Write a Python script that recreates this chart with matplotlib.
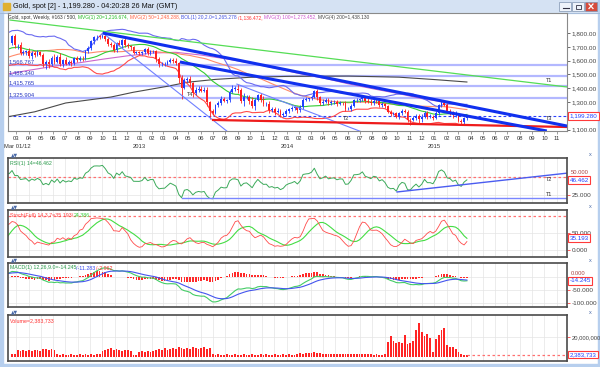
import numpy as np
import pandas as pd
import matplotlib
matplotlib.use("Agg")
import matplotlib.pyplot as plt
import matplotlib.dates as mdates
from matplotlib.patches import Rectangle

plt.rcParams['font.family'] = ['Liberation Sans', 'DejaVu Sans']

# ---------------- data ----------------
pre_start = "2011-03-07"          # weekly closes used only to warm up the indicators
pre_closes = [1421, 1418, 1428, 1429, 1474, 1486, 1504, 1556, 1491, 1493,
              1509, 1536, 1542, 1530, 1540, 1502, 1486, 1542, 1594, 1601,
              1628, 1664, 1744, 1852, 1828, 1876, 1856, 1812, 1656, 1624,
              1635, 1682, 1642, 1745, 1755, 1788, 1724, 1684, 1746, 1711,
              1598, 1606, 1566, 1617, 1640, 1665, 1739, 1725, 1725, 1725]

start_week = "2012-02-20"
closes = [1776, 1711, 1712, 1656, 1662, 1668, 1632, 1658, 1642, 1663,
          1644, 1579, 1592, 1572, 1622, 1591, 1627, 1572, 1604, 1579,
          1591, 1582, 1619, 1606, 1621, 1616, 1671, 1692, 1740, 1771,
          1773, 1772, 1781, 1758, 1724, 1711, 1676, 1731, 1713, 1751,
          1712, 1704, 1696, 1657, 1657, 1656, 1662, 1687, 1658, 1667,
          1667, 1609, 1573, 1576, 1577, 1592, 1608, 1596, 1581, 1476,
          1405, 1462, 1468, 1436, 1365, 1386, 1393, 1383, 1387, 1297,
          1234, 1223, 1277, 1296, 1322, 1310, 1312, 1375, 1396, 1396,
          1386, 1308, 1333, 1338, 1309, 1272, 1315, 1351, 1315, 1286,
          1288, 1244, 1250, 1230, 1235, 1203, 1213, 1237, 1248, 1254,
          1264, 1240, 1262, 1318, 1323, 1326, 1339, 1379, 1335, 1294,
          1303, 1318, 1294, 1300, 1302, 1287, 1293, 1292, 1250, 1252,
          1274, 1315, 1316, 1320, 1337, 1310, 1303, 1294, 1309, 1305,
          1280, 1287, 1268, 1230, 1216, 1218, 1192, 1222, 1238, 1231,
          1171, 1169, 1187, 1201, 1175, 1191, 1222, 1195, 1195, 1186,
          1217, 1277, 1293, 1279, 1234, 1228, 1204, 1213, 1166, 1152,
          1182, 1199]

wick_up = [12, 14, 10, 20, 16, 12, 22, 10, 14, 12,
           10, 14, 10, 20, 12, 28, 14, 26, 10, 22,
           14, 12, 10, 12, 10, 12, 8, 14, 8, 8,
           14, 12, 14, 16, 14, 12, 14, 6, 18, 6,
           16, 14, 12, 12, 10, 10, 10, 6, 14, 12,
           10, 12, 14, 12, 10, 12, 8, 10, 20, 10,
           20, 14, 16, 20, 10, 20, 20, 22, 22, 24,
           10, 14, 10, 12, 24, 16, 10, 10, 24, 18,
           38, 18, 30, 12, 14, 26, 12, 10, 16, 28,
           12, 20, 14, 14, 20, 12, 12, 12, 10, 14,
           10, 10, 14, 12, 12, 6, 10, 10, 16, 12,
           22, 14, 12, 12, 10, 12, 12, 10, 12, 14,
           10, 10, 10, 12, 10, 8, 20, 18, 14, 16,
           12, 10, 8, 14, 12, 12, 12, 8, 12, 14,
           12, 10, 14, 14, 14, 22, 16, 10, 20, 10,
           20, 10, 14, 20, 12, 12, 10, 20, 8, 10,
           12, 8]
wick_dn = [10, 23, 25, 14, 16, 18, 12, 20, 14, 12,
           10, 24, 40, 22, 12, 18, 10, 12, 18, 12,
           14, 18, 12, 14, 12, 16, 8, 14, 18, 16,
           20, 18, 10, 14, 18, 14, 10, 10, 10, 18,
           16, 14, 18, 12, 12, 14, 12, 12, 14, 16,
           12, 16, 18, 14, 14, 10, 12, 16, 14, 40,
           84, 14, 18, 20, 28, 12, 16, 14, 14, 26,
           54, 16, 10, 10, 14, 12, 20, 10, 12, 16,
           20, 16, 38, 14, 20, 18, 30, 10, 12, 16,
           16, 22, 18, 24, 10, 15, 14, 12, 18, 10,
           14, 18, 12, 14, 10, 18, 10, 8, 20, 12,
           14, 10, 12, 16, 14, 16, 12, 10, 12, 10,
           14, 12, 12, 16, 10, 14, 12, 12, 14, 12,
           14, 16, 14, 10, 18, 12, 10, 14, 14, 14,
           15, 38, 10, 14, 36, 20, 8, 16, 12, 16,
           10, 10, 12, 10, 10, 22, 22, 10, 10, 20,
           10, 10]

volume_m = [3, 3,
            7, 6, 7, 6, 7, 6, 7, 7, 6, 8,
            8, 7, 8, 7,
            3, 2.5, 3, 2.5, 2.5, 3, 2.5, 2.5, 3, 2.5, 3, 2.5, 3, 2.5, 3, 3,
            6, 7, 8, 9, 7, 8, 7, 6, 7, 7, 6,
            2.5, 2.5,
            5, 6, 5, 6, 5, 6,
            7, 8, 7, 9, 7, 8, 9, 8, 10, 9,
            8, 9, 8, 10, 9, 8, 9, 10, 8, 9,
            3, 2.5, 3, 2.5, 2, 3, 2.5, 2, 3, 2.5,
            2.5, 3, 2, 2.5, 3, 2.5, 2, 3, 2.5, 3,
            2.5, 2, 3, 2.5, 2, 3, 2.5, 3, 2, 2.5,
            3, 4, 3.5, 4, 4.5, 4, 5, 4.5, 4, 3.5,
            3, 3.5, 3, 3, 3.5, 3, 3, 3, 3, 3.5,
            3, 3, 3, 3.5, 3, 3, 3, 2.5, 3, 2.5, 2,
            3, 15, 21, 16, 14, 15, 14, 22, 13, 14,
            16, 27, 34, 25, 21, 23, 19, 5, 18, 22,
            27, 29, 12, 10, 10, 8, 5, 3.5, 2.5, 2.38]

ma100_dates = ["2012-02-13", "2012-04-02", "2012-06-04", "2012-08-06", "2012-10-01",
               "2012-12-03", "2013-02-04", "2013-04-01", "2013-06-03", "2013-08-05",
               "2013-10-07", "2013-12-02", "2014-02-03", "2014-04-07", "2014-06-02",
               "2014-08-04", "2014-10-06", "2014-12-01", "2015-02-02", "2015-03-23"]
ma100_vals = [1505, 1530, 1560, 1585, 1610, 1635, 1655, 1660, 1640, 1612,
              1580, 1545, 1505, 1470, 1432, 1395, 1360, 1325, 1295, 1273]

ma200_dates = ["2012-02-13", "2012-04-16", "2012-07-02", "2012-10-22", "2012-12-17",
               "2013-03-11", "2013-04-29", "2013-07-08", "2013-09-30", "2014-01-06",
               "2014-06-02", "2014-10-06", "2015-01-05", "2015-03-23"]
ma200_vals = [1195, 1229, 1293, 1336, 1371, 1414, 1443, 1464, 1479, 1486,
              1488, 1480, 1462, 1445]

level_vals = [1566.767, 1488.340, 1415.765, 1325.904]
level_labels = ["1,566.767", "1,488.340", "1,415.765", "1,325.904"]

thick_lines = [(("2012-10-02", 1800), ("2015-11-26", 1126)),
               (("2013-04-11", 1590), ("2015-10-07", 1090))]
thin_lines = [(("2012-10-02", 1800), ("2013-08-08", 1083)),
              (("2013-08-30", 1430), ("2014-07-06", 1083))]
green_line = (("2012-02-15", 1894), ("2015-11-26", 1409))
red_line = (("2013-07-02", 1170), ("2015-11-26", 1119))
main_tags = [("T1", "2015-10-05", 1459), ("T3", "2015-10-05", 1184),
             ("T2", "2014-05-20", 1184), ("T4", "2013-04-29", 1351)]

rsi_hline = (("2013-04-16", 22), ("2015-11-26", 22))
rsi_trend = (("2014-10-01", 29.9), ("2015-11-26", 56))
rsi_tags = [("T2", "2015-10-05", 46.5), ("T1", "2015-10-05", 26)]

last_price = 1199.28
last_volume = 2383733
month_labels_fmt = "%m"
year_labels = [("2013-01-01", "2013"), ("2014-01-01", "2014"), ("2015-01-01", "2015")]

# ---------------- computations ----------------
n_pre, n = len(pre_closes), len(closes)
dates_all = pd.date_range(pre_start, periods=n_pre + n, freq="7D")
dates = dates_all[n_pre:]
c = np.array(closes, float)
o = np.concatenate([[pre_closes[-1]], c[:-1]])
hi = np.maximum(o, c) + np.array(wick_up)
lo = np.minimum(o, c) - np.array(wick_dn)

s = pd.Series(np.concatenate([pre_closes, c]).astype(float), index=dates_all)
h_all = pd.Series(np.concatenate([pre_closes, hi]).astype(float), index=dates_all)
l_all = pd.Series(np.concatenate([pre_closes, lo]).astype(float), index=dates_all)
ma20 = s.rolling(20).mean()
ma50 = s.rolling(50).mean()
sd20 = s.rolling(20).std(ddof=0)
bb_up, bb_lo = ma20 + 2 * sd20, ma20 - 2 * sd20

delta = s.diff()
ag = delta.clip(lower=0).ewm(alpha=1 / 14, adjust=False).mean()
al = (-delta.clip(upper=0)).ewm(alpha=1 / 14, adjust=False).mean()
rsi = 100 - 100 / (1 + ag / al)

macd = s.ewm(span=12, adjust=False).mean() - s.ewm(span=26, adjust=False).mean()
signal = macd.ewm(span=9, adjust=False).mean()
hist = macd - signal

hh = h_all.rolling(14).max()
ll = l_all.rolling(14).min()
stk = (100 * (s - ll) / (hh - ll)).rolling(3).mean()
std_ = stk.rolling(7).mean()

# ---------------- figure ----------------
W, H = 600, 367
fig = plt.figure(figsize=(6, 3.67), dpi=100)


def rect(x0, y0, x1, y1):
    return [x0 / W, 1 - y1 / H, (x1 - x0) / W, (y1 - y0) / H]


bg = fig.add_axes([0, 0, 1, 1], zorder=-10)
bg.set_xlim(0, W)
bg.set_ylim(H, 0)
bg.axis('off')
bg.add_patch(Rectangle((0, 0), W, H, color='white'))
bg.add_patch(Rectangle((0, 0), W, 12.5, color='#d5e2f3'))
bg.plot([0, W], [12.5, 12.5], color='#9fb6d6', lw=0.6)
bg.add_patch(Rectangle((0, 0), 2.5, H, color='#b7cfee'))
bg.add_patch(Rectangle((597.5, 0), 2.5, H, color='#b7cfee'))
bg.add_patch(Rectangle((0, 363.5), W, 3.5, color='#b7cfee'))
bg.add_patch(Rectangle((3, 3), 7, 7, color='#e0b030'))
for bx, fc in [(559, '#eef3fa'), (572, '#eef3fa'), (585, '#d64b3c')]:
    bg.add_patch(Rectangle((bx, 2), 12, 8.5, fc=fc, ec='#7f93b0', lw=0.5))
bg.plot([562.5, 568.5], [8, 8], color='#334', lw=0.8)
bg.add_patch(Rectangle((575.5, 4.5), 5, 4, fc='none', ec='#334', lw=0.6))
bg.plot([589, 593], [4, 8.5], color='white', lw=0.9)
bg.plot([589, 593], [8.5, 4], color='white', lw=0.9)

xmin, xmax = pd.Timestamp("2012-02-10"), pd.Timestamp("2015-11-26")
UP, DN = '#2040ff', '#ff2020'


def base(ax, frame, lw, grid=True):
    for sp in ax.spines.values():
        sp.set_color(frame)
        sp.set_linewidth(lw)
    ax.set_xlim(xmin, xmax)
    ax.xaxis.set_major_locator(mdates.MonthLocator())
    ax.yaxis.tick_right()
    ax.tick_params(axis='x', length=0, labelbottom=False)
    ax.tick_params(axis='y', length=2.2, width=0.6, pad=1, labelsize=4.6,
                   labelcolor='#444444', color='#ff4040')
    if grid:
        ax.grid(True, color='#e4e4e4', lw=0.5)
        ax.set_axisbelow(True)


def vbox(ax, val, text, fs=4.5):
    ax.text(1.0 + 2.5 / 559, val, text, transform=ax.get_yaxis_transform(), ha='left',
            va='center', fontsize=fs, color='#2040ff', clip_on=False, zorder=20,
            bbox=dict(boxstyle='square,pad=0.2', fc='white', ec='#ff3a3a', lw=0.8))


def side_label(ax, val, text, dy_px):
    # tick label that sits just above the current-value box (as in the reference)
    ax.text(1.0 + 4 / 559, val, text, transform=ax.get_yaxis_transform(), ha='left',
            va='bottom', fontsize=4.2, color='#aa4444', clip_on=False,
            transform_rotates_text=False)


def seg(ax, p, **kw):
    (d0, v0), (d1, v1) = p
    ax.plot([pd.Timestamp(d0), pd.Timestamp(d1)], [v0, v1], **kw)


# ---- main price panel ----
ax = fig.add_axes(rect(8, 13, 567, 131))
base(ax, '#8a8a8a', 0.8, grid=False)
ax.set_ylim(1090, 1945)
ticks = [1100, 1300, 1400, 1500, 1600, 1700, 1800]
ax.set_yticks(ticks)
ax.set_yticklabels([f"{t:,.2f}" for t in ticks])
ax.tick_params(axis='y', color='#555555')
ax.tick_params(axis='x', length=2, width=0.5, color='#777777', labelbottom=True,
               labelsize=4.2, pad=1.5, labelcolor='#333333')
ax.xaxis.set_major_formatter(mdates.DateFormatter(month_labels_fmt))
for d, t in year_labels:
    ax.text(pd.Timestamp(d), -0.135, t, transform=ax.get_xaxis_transform(),
            ha='center', va='center', fontsize=4.2, color='#333333')

for v, lab in zip(level_vals, level_labels):
    ax.axhline(v, color='#a6acff', lw=1.6, alpha=0.85, zorder=1)
    ax.text(xmin + pd.Timedelta(days=2), v + 6, lab, fontsize=4.2, color='#2a3ac0',
            va='bottom', ha='left', zorder=6)
ax.axhline(last_price, color='#2a40ff', lw=0.8, ls=(0, (2.5, 2)), zorder=2)

ax.plot(pd.to_datetime(ma200_dates), ma200_vals, color='#4a4a4a', lw=0.8, zorder=2)
ax.plot(pd.to_datetime(ma100_dates), ma100_vals, color='#cc66cc', lw=0.8, zorder=2)
ax.plot(dates_all, ma50, color='#ff8a6a', lw=0.8, zorder=2)
ax.plot(dates_all, ma20, color='#33cc33', lw=0.8, zorder=2)
ax.plot(dates_all, bb_up, color='#6a6af0', lw=0.8, zorder=2)
ax.plot(dates_all, bb_lo, color='#ff4a4a', lw=0.8, zorder=2)

cols = [UP if cc >= oo else DN for oo, cc in zip(o, c)]
ax.vlines(dates, lo, hi, colors=cols, lw=0.6, zorder=3)
ax.bar(dates, np.maximum(np.abs(c - o), 3), bottom=np.minimum(o, c), width=4.5,
       color=cols, zorder=3)

seg(ax, green_line, color='#55dd55', lw=0.9, zorder=4)
for p in thin_lines:
    seg(ax, p, color='#7080ff', lw=0.8, zorder=4)
seg(ax, red_line, color='#ee1c1c', lw=1.6, zorder=4)
for p in thick_lines:
    seg(ax, p, color='#1030ee', lw=2.2, zorder=5, solid_capstyle='butt')
for t, d, v in main_tags:
    ax.text(pd.Timestamp(d), v, t, fontsize=4, color='#333333', ha='left', va='center', zorder=6)
vbox(ax, last_price, "1,199.280")

# ---- RSI ----
ar = fig.add_axes(rect(8, 158, 567, 203))
base(ar, '#4a4a4a', 1.2)
ar.set_ylim(14.6, 77)
ar.set_yticks([25, 50])
ar.set_yticklabels(["25.000", ""])
ar.axhline(50, color='#ff7070', lw=0.9, ls=(0, (2, 2)))
ar.plot(dates_all, rsi, color='#3caa5a', lw=0.7)
seg(ar, rsi_hline, color='#7a86ff', lw=1.0)
seg(ar, rsi_trend, color='#4a5cf0', lw=1.0)
for t, d, v in rsi_tags:
    ar.text(pd.Timestamp(d), v, t, fontsize=4, color='#333333', ha='left', va='center')
side_label(ar, 53.2, "50.000", 0)
vbox(ar, 46.462, "46.462")

# ---- Stochastic ----
asx = fig.add_axes(rect(8, 210, 567, 257))
base(asx, '#4a4a4a', 1.2)
asx.set_ylim(-20.6, 119)
asx.set_yticks([0, 50])
asx.set_yticklabels(["0.000", "50.000"])
asx.axhline(100, color='#ff7070', lw=0.9, ls=(0, (2, 2)))
asx.plot(dates_all, std_, color='#44dd44', lw=0.8)
asx.plot(dates_all, stk, color='#ff4a4a', lw=0.6)
vbox(asx, 35.193, "35.193")

# ---- MACD ----
am = fig.add_axes(rect(8, 263, 567, 307))
base(am, '#4a4a4a', 1.2)
am.set_ylim(-115, 54)
am.set_yticks([0, -50, -100])
am.set_yticklabels(["", "-50.000", "-100.000"])
am.bar(dates_all, hist, width=4.2, color='#ff2a2a')
am.plot(dates_all, macd, color='#44cc66', lw=0.8)
am.plot(dates_all, signal, color='#4455ee', lw=0.8)
side_label(am, 3.5, "0.000", 0)
vbox(am, -14.245, "-14.245")

# ---- Volume ----
av = fig.add_axes(rect(8, 315, 567, 361))
base(av, '#4a4a4a', 1.2)
av.set_ylim(-4e6, 42e6)
av.set_yticks([20e6])
av.set_yticklabels(["20,000,000"])
av.tick_params(axis='y', labelsize=4.2)
av.bar(dates, np.array(volume_m) * 1e6, width=4.5, color='#ff2424')
av.hlines(last_volume, dates[-1], xmax, color='#ff7070', lw=0.9, ls=(0, (2, 2)))
vbox(av, last_volume, "2,383,733", fs=4.3)

# ---------------- texts ----------------
renderer = fig.canvas.get_renderer()


def seq_text(x_px, y_px, parts, fs, gap=1.5):
    x = x_px
    for txt, col in parts:
        t = fig.text(x / W, 1 - y_px / H, txt, color=col, fontsize=fs, ha='left', va='center')
        x += t.get_window_extent(renderer=renderer).width + gap
    return x


fig.text(13 / W, 1 - 6.5 / H, "Gold, spot [2] - 1,199.280 - 04:20:28 26 Mar (GMT)",
         fontsize=5.2, color='#111111', ha='left', va='center')
seq_text(8, 17.5, [("Gold, spot, Weekly, #163 / 500,", '#333333'),
                   ("MVG(1) 20=1,216.674,", '#22bb22'),
                   ("MVG(2) 50=1,248.288,", '#ff6040'),
                   ("BOL(1) 20,2.0=1,265.278", '#4050e0'),
                   ("/1,136.472,", '#ff3030'),
                   ("MVG(3) 100=1,273.452,", '#cc55cc'),
                   ("MVG(4) 200=1,438.130", '#444444')], 3.5)
seq_text(10, 163.5, [("RSI(1) 14=46.462", '#2a9a4a')], 3.8)
seq_text(10, 215.5, [("Stoch(Full) 14,3,7=35.193/", '#ff4040'), ("24.386", '#33cc33')], 3.8, gap=0)
seq_text(10, 268, [("MACD(1) 12,26,9.0=-14.245", '#2a9a4a'), ("/-11.283", '#3344ee'),
                   ("/-2.962", '#ff3030')], 3.8, gap=0)
seq_text(10, 320.5, [("Volume=2,383,733", '#ff3030')], 3.8)
fig.text(4 / W, 1 - 147 / H, "Mar 01/12", fontsize=4.2, color='#333333', ha='left', va='center')

for yy in [154.5, 206.5, 260, 312]:
    fig.text(11 / W, 1 - yy / H, "▲▼", fontsize=3.3, color='#4a6aa8', ha='left', va='center',
             family=['DejaVu Sans'])
    fig.text(589 / W, 1 - yy / H, "x", fontsize=4, color='#4a6aa8', ha='left', va='center')

fig.savefig("out.png", dpi=100)
